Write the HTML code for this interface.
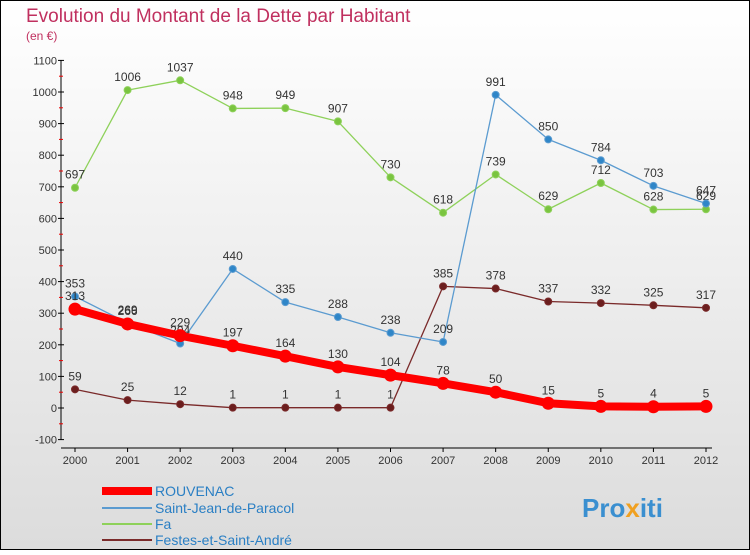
<!DOCTYPE html>
<html><head><meta charset="utf-8"><style>
body{margin:0;width:750px;height:550px;overflow:hidden;font-family:"Liberation Sans",sans-serif;}
svg text{font-family:"Liberation Sans",sans-serif;}
</style></head><body>
<svg id="c" width="750" height="550" xmlns="http://www.w3.org/2000/svg">
<defs><linearGradient id="bg" x1="0" y1="0" x2="0" y2="1"><stop offset="0" stop-color="#ffffff"/><stop offset="1" stop-color="#dcdcdc"/></linearGradient></defs>
<rect x="0.5" y="0.5" width="749" height="549" fill="url(#bg)" stroke="#000"/>
<text x="26" y="22" font-size="19" fill="#c0305f">Evolution du Montant de la Dette par Habitant</text>
<text x="26" y="40" font-size="12" fill="#c0305f">(en €)</text>
<g id="axes"></g><g id="series"></g>
<g>
<rect x="102" y="487" width="50" height="8" fill="#ff0000"/>
<text x="155" y="496" font-size="14" fill="#2a7fc4">ROUVENAC</text>
<line x1="102" y1="508" x2="152" y2="508" stroke="#5b9bd0" stroke-width="2"/>
<text x="155" y="513" font-size="14" fill="#2a7fc4">Saint-Jean-de-Paracol</text>
<line x1="102" y1="524" x2="152" y2="524" stroke="#8ed15a" stroke-width="2"/>
<text x="155" y="529" font-size="14" fill="#2a7fc4">Fa</text>
<line x1="102" y1="540" x2="152" y2="540" stroke="#7a2a2a" stroke-width="2"/>
<text x="155" y="545" font-size="14" fill="#2a7fc4">Festes-et-Saint-André</text>
</g>
<text x="582" y="517" font-size="26" font-weight="bold" fill="#3a8fd0">Pro<tspan fill="#f0a020">x</tspan>iti</text>
</svg>
<script>
const years=[2000,2001,2002,2003,2004,2005,2006,2007,2008,2009,2010,2011,2012];
const rouvenac=[313,266,229,197,164,130,104,78,50,15,5,4,5];
const saintJean=[353,269,204,440,335,288,238,209,991,850,784,703,647];
const fa=[697,1006,1037,948,949,907,730,618,739,629,712,628,629];
const festes=[59,25,12,1,1,1,1,385,378,337,332,325,317];
const yTicks=[-100,0,100,200,300,400,500,600,700,800,900,1000,1100];
const NS="http://www.w3.org/2000/svg";
const X=i=>75+i*(706-75)/12;
const Y=v=>408-v*0.316;
function mk(tag,attrs,parent,txt){const e=document.createElementNS(NS,tag);for(const k in attrs)e.setAttribute(k,attrs[k]);if(txt!==undefined)e.textContent=txt;parent.appendChild(e);return e;}
const ax=document.getElementById('axes');
let a=mk('line',{x1:61,y1:Y(1100),x2:61,y2:Y(-100),stroke:'#000'},ax);


a=mk('line',{x1:61,y1:448,x2:712,y2:448,stroke:'#000'},ax);


yTicks.forEach(t=>{
 mk('line',{x1:58,y1:Y(t),x2:64,y2:Y(t),stroke:'#000'},ax);
 if(t<1100) mk('line',{x1:59,y1:Y(t+50),x2:63,y2:Y(t+50),stroke:'#e00'},ax);
 const l=mk('text',{x:57,y:Y(t)+4,'font-size':11,'text-anchor':'end',fill:'#333'},ax,String(t));
 
 
});
years.forEach((yr,i)=>{
 mk('line',{x1:X(i),y1:448,x2:X(i),y2:452,stroke:'#000'},ax);
 const l=mk('text',{x:X(i),y:464,'font-size':11,'text-anchor':'middle',fill:'#333'},ax,String(yr));
 
 
});
const sg=document.getElementById('series');
function draw(name,vals,color,w,r,dot){
 const g=mk('g',{},sg);
 
 
 const p=mk('polyline',{points:vals.map((v,i)=>X(i)+','+Y(v)).join(' '),fill:'none',stroke:color,'stroke-width':w,'stroke-linejoin':'round'},g);
 
 
 vals.forEach((v,i)=>{
  const c=mk('circle',{cx:X(i),cy:Y(v),r:r,fill:dot,stroke:color,'stroke-width':1},g);
  
  
  const t=mk('text',{x:X(i),y:Y(v)-9,'font-size':12,'text-anchor':'middle',fill:'#333'},g,String(v));
  
  
 });
}
draw('fa',fa,'#8ed15a',1.3,3.5,'#7ac440');
draw('festes',festes,'#7a2a2a',1.3,3.5,'#6b1e1e');
draw('saint-jean',saintJean,'#5b9bd0',1.3,3.5,'#2f86c8');
draw('rouvenac',rouvenac,'#ff0000',8,6,'#ff0000');
</script>
</body></html>
